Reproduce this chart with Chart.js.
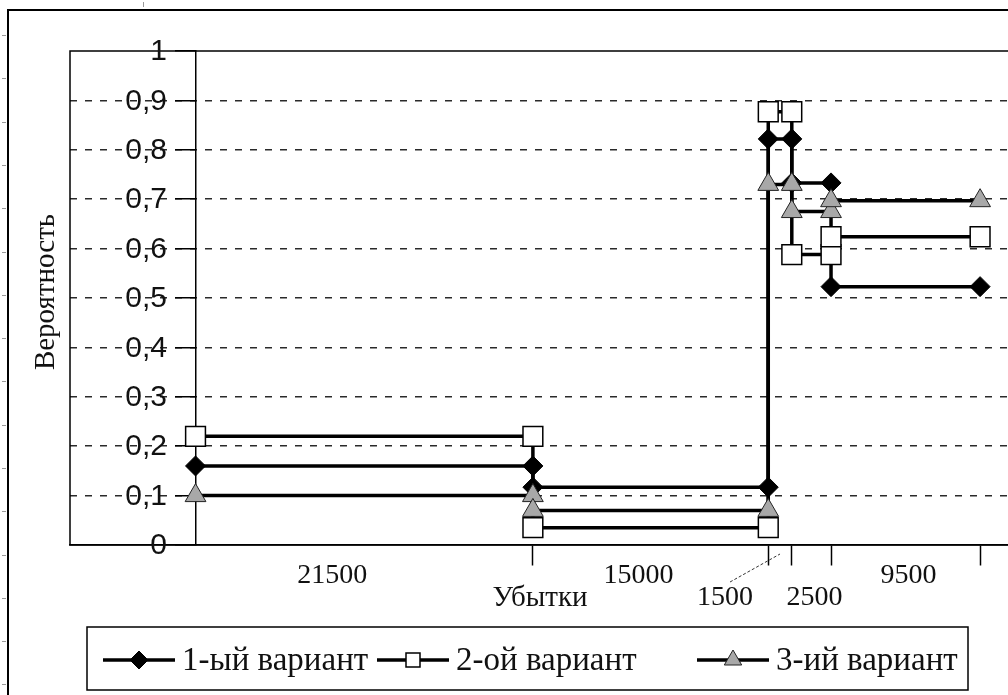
<!DOCTYPE html>
<html>
<head>
<meta charset="utf-8">
<script src="https://cdn.jsdelivr.net/npm/chart.js@4.4.1/dist/chart.umd.min.js"></script>
<style>
  html, body { margin: 0; padding: 0; background: #fff; overflow: hidden; width: 1008px; height: 695px; }
  canvas { display: block; }
</style>
</head>
<body>
<canvas id="chart" width="1040" height="720"></canvas>
<script>
// losses per stage; the x axis runs over their running total
const losses = [21500, 15000, 1500, 2500, 9500];
const lossLabels = ['21500', '15000', '1500', '2500', '9500'];

// corners of the stepped curves (x = accumulated loss)
const xs = [0, 21500, 21500, 36500, 36500, 38000, 38000, 40500, 40500, 50000];
const variant1 = [0.16, 0.16, 0.117, 0.117, 0.822, 0.822, 0.733, 0.733, 0.523, 0.523];
const variant2 = [0.22, 0.22, 0.035, 0.035, 0.877, 0.877, 0.588, 0.588, 0.624, 0.624];
const variant3 = [0.1, 0.1, 0.07, 0.07, 0.73, 0.73, 0.675, 0.675, 0.697, 0.697];
const seriesNames = ['1-ый вариант', '2-ой вариант', '3-ий вариант'];

const xTitle = 'Убытки';
const yTitle = 'Вероятность';

// tick marks on the x axis sit at the stage boundaries
const boundaries = [];
losses.reduce((sum, v) => { boundaries.push(sum + v); return sum + v; }, 0);

const SERIF = '"Liberation Serif", "Times New Roman", serif';
const SANS = '"Liberation Sans", Arial, sans-serif';

const markers = [
  { style: 'rectRot', radius: 10, fill: '#000', stroke: '#000', width: 1 },
  { style: 'rect', radius: 14, fill: '#fff', stroke: '#000', width: 1.5 },
  { style: 'triangle', radius: 12, fill: '#a8a8a8', stroke: '#222', width: 1 }
];

function makeSet(i, values) {
  const m = markers[i];
  return {
    label: seriesNames[i],
    data: xs.map((x, k) => ({ x: x, y: values[k] })),
    borderColor: '#000',
    borderWidth: 3.5,
    fill: false,
    tension: 0,
    pointStyle: m.style,
    pointRadius: m.radius,
    pointBackgroundColor: m.fill,
    pointBorderColor: m.stroke,
    pointBorderWidth: m.width,
    order: 3 - i,
    clip: false
  };
}

// small legend marker, drawn by hand
function drawMarker(ctx, m, x, y, r) {
  ctx.save();
  ctx.fillStyle = m.fill;
  ctx.strokeStyle = m.stroke;
  ctx.lineWidth = m.width;
  ctx.beginPath();
  if (m.style === 'rectRot') {
    ctx.moveTo(x, y - r); ctx.lineTo(x + r, y); ctx.lineTo(x, y + r); ctx.lineTo(x - r, y);
  } else if (m.style === 'rect') {
    ctx.rect(x - r * 0.7, y - r * 0.7, r * 1.4, r * 1.4);
  } else {
    ctx.moveTo(x, y - r); ctx.lineTo(x + r * 0.87, y + r * 0.5); ctx.lineTo(x - r * 0.87, y + r * 0.5);
  }
  ctx.closePath();
  ctx.fill();
  ctx.stroke();
  ctx.restore();
}

const decorations = {
  id: 'decorations',
  afterDraw(chart) {
    const ctx = chart.ctx;
    const area = chart.chartArea;
    const xs_ = chart.scales.x;
    const ys_ = chart.scales.y;
    ctx.save();

    // outer frame and ruler marks
    ctx.strokeStyle = '#000';
    ctx.lineWidth = 2;
    ctx.strokeRect(8, 10, 1100, 800);
    ctx.strokeStyle = '#999';
    ctx.lineWidth = 1;
    for (let y = 35; y < 695; y += 43.3) {
      ctx.beginPath(); ctx.moveTo(2, Math.round(y) + 0.5); ctx.lineTo(6, Math.round(y) + 0.5); ctx.stroke();
    }
    ctx.beginPath(); ctx.moveTo(143.5, 2); ctx.lineTo(143.5, 7); ctx.stroke();

    // plot frame
    ctx.strokeStyle = '#000';
    ctx.lineWidth = 1.5;
    ctx.strokeRect(area.left, area.top, area.right - area.left + 40, area.bottom - area.top);

    // y tick labels
    ctx.fillStyle = '#111';
    ctx.font = '30px ' + SANS;
    ctx.textAlign = 'right';
    ctx.textBaseline = 'middle';
    ys_.ticks.forEach(t => {
      const v = Math.round(t.value * 10) / 10;
      const txt = (v === 0 || v === 1) ? String(v) : v.toFixed(1).replace('.', ',');
      ctx.fillText(txt, 167, ys_.getPixelForValue(t.value) + 1);
    });

    // y title
    ctx.save();
    ctx.translate(46, 292);
    ctx.rotate(-Math.PI / 2);
    ctx.textAlign = 'center';
    ctx.font = '29px ' + SERIF;
    ctx.fillText(yTitle, 0, 0);
    ctx.restore();

    // stage labels between the x tick marks
    const shift = [[-32, 0], [-12, 0], [-55, 22], [3, 22], [3, 0]];
    ctx.font = '28px ' + SERIF;
    ctx.textAlign = 'center';
    let start = 0;
    lossLabels.forEach((txt, i) => {
      const mid = xs_.getPixelForValue(start + losses[i] / 2);
      const lx = mid + shift[i][0];
      const ly = 576 + shift[i][1];
      ctx.fillText(txt, lx, ly);
      if (i === 2) {
        ctx.save();
        ctx.strokeStyle = '#333';
        ctx.lineWidth = 1;
        ctx.setLineDash([3, 2]);
        ctx.beginPath();
        ctx.moveTo(lx + 5, ly - 16);
        ctx.lineTo(mid, area.bottom + 9);
        ctx.stroke();
        ctx.restore();
      }
      start += losses[i];
    });
    ctx.font = '29px ' + SERIF;
    ctx.fillText(xTitle, 540, 598);

    // legend
    ctx.strokeStyle = '#000';
    ctx.lineWidth = 1.5;
    ctx.strokeRect(87, 627, 881, 63);
    const itemX = [103, 377, 697];
    const ly = 660;
    ctx.textAlign = 'left';
    ctx.font = '33px ' + SERIF;
    seriesNames.forEach((name, i) => {
      const x0 = itemX[i];
      ctx.strokeStyle = '#000';
      ctx.lineWidth = 3.5;
      ctx.beginPath(); ctx.moveTo(x0, ly); ctx.lineTo(x0 + 72, ly); ctx.stroke();
      drawMarker(ctx, markers[i], x0 + 36, ly, i === 0 ? 9 : 10);
      ctx.fillStyle = '#111';
      ctx.fillText(name, x0 + 79, ly + 1);
    });
    ctx.restore();
  }
};

new Chart(document.getElementById('chart'), {
  type: 'line',
  data: {
    datasets: [makeSet(0, variant1), makeSet(1, variant2), makeSet(2, variant3)]
  },
  options: {
    responsive: false,
    animation: false,
    events: [],
    devicePixelRatio: 1,
    layout: { padding: { left: 70, top: 51, right: 10, bottom: 175 } },
    plugins: { legend: { display: false }, tooltip: { enabled: false } },
    scales: {
      x: {
        type: 'linear',
        position: { y: 0 },
        min: -8000,
        max: 52830,
        afterBuildTicks: scale => { scale.ticks = boundaries.map(v => ({ value: v })); },
        ticks: { display: false },
        grid: { drawOnChartArea: false, drawTicks: true, tickLength: 20, tickWidth: 1.5, tickColor: '#000', color: '#000' },
        border: { display: true, color: '#000', width: 1.5 }
      },
      y: {
        type: 'linear',
        position: { x: 0 },
        min: 0,
        max: 1,
        ticks: { display: false, stepSize: 0.1 },
        grid: {
          color: c => (c.tick && (c.tick.value < 0.01 || c.tick.value > 0.99)) ? 'rgba(0,0,0,0)' : '#2a2a2a',
          lineWidth: 1.5,
          drawTicks: true,
          tickLength: 20,
          tickColor: '#000',
          tickWidth: 1.5
        },
        border: { display: true, color: '#000', width: 1.5, dash: [7, 8] }
      }
    }
  },
  plugins: [decorations]
});
</script>
</body>
</html>
